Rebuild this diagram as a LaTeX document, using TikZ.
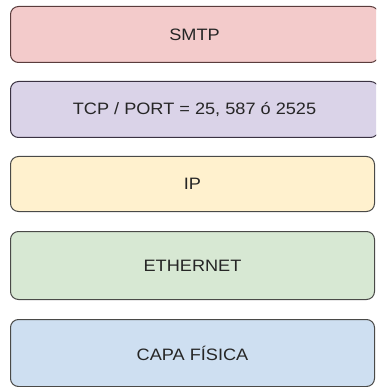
\documentclass[tikz,border=0pt]{standalone}
\usepackage{fontspec}
\setmainfont{Liberation Sans}[FakeStretch=1.1]
\definecolor{fred}{HTML}{F3CBCB}
\definecolor{fpurple}{HTML}{DAD3E8}
\definecolor{fyellow}{HTML}{FFF1CE}
\definecolor{fgreen}{HTML}{D7E8D3}
\definecolor{fblue}{HTML}{CEDFF1}
\definecolor{sred}{HTML}{5A3C3C}
\definecolor{spurple}{HTML}{3A3242}
\definecolor{sgen}{HTML}{4A4A48}
\begin{document}
\begin{tikzpicture}[x=1pt,y=-1pt,
  layer/.style={draw, rounded corners=8pt, line width=1pt, minimum height=#1,
    inner sep=0pt, font=\fontsize{16.5}{18}\selectfont, text=black!85, anchor=north west},
]
\useasboundingbox (0,0) rectangle (376,387);
\clip (0,0) rectangle (376,387);
\node[layer=56pt, minimum width=368pt, fill=fred, draw=sred] (smtp) at (10,6) {SMTP};
\node[layer=56pt, minimum width=368pt, fill=fpurple, draw=spurple] (tcp) at (10,81) {TCP / PORT = 25, 587 ó 2525};
\node[layer=55pt, minimum width=364pt, fill=fyellow, draw=sgen] (ip) at (10,156) {IP};
\node[layer=68pt, minimum width=364pt, fill=fgreen, draw=sgen] (eth) at (10,231) {ETHERNET};
\node[layer=67pt, minimum width=364pt, fill=fblue, draw=sgen] (phy) at (10,319) {CAPA FÍSICA};
\end{tikzpicture}
\end{document}
